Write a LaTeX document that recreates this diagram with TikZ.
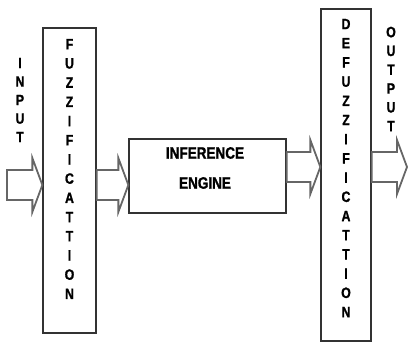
\documentclass[tikz,border=0pt]{standalone}
\usepackage{fontspec}
\setmainfont{Liberation Sans}
\newfontfamily\narrowsans[FakeStretch=0.82,BoldFeatures={FakeBold=1.2}]{Liberation Sans}
\usetikzlibrary{calc}

\newcommand{\fatarrow}[2]{%
  \draw[fat] let \p1=(#1), \p2=(#2) in
    (\x1,\y1+15pt) -- (\x2-10pt,\y1+15pt) -- (\x2-10pt,\y1+27pt) -- (\x2,\y1)
    -- (\x2-10pt,\y1-27pt) -- (\x2-10pt,\y1-15pt) -- (\x1,\y1-15pt) -- cycle;}

\begin{document}
\begin{tikzpicture}[x=1pt,y=-1pt,
    box/.style={draw=black!80,line width=1.3pt,fill=white,inner sep=0pt},
    fat/.style={draw=black!60,line width=1.8pt,fill=white,line join=miter},
    letters/.style={inner sep=0pt,align=center,font=\narrowsans\bfseries\fontsize{15}{19.2}\selectfont}]
	    \useasboundingbox (0,0) rectangle (409,344);
	    \node[box,minimum width=53pt,minimum height=305pt] (fuzz) at (69.5,180.5) {};
	    \node[box,minimum width=157pt,minimum height=74pt] (inf) at (207.5,176) {};
	    \node[box,minimum width=50pt,minimum height=332pt] (defuzz) at (346,175) {};
	    \coordinate (in) at (7,185);
	    \coordinate (out) at (407,167);
	    \fatarrow{in}{fuzz.west |- in}
	    \fatarrow{fuzz.east |- in}{inf.west |- in}
	    \fatarrow{inf.east |- out}{defuzz.west |- out}
	    \fatarrow{defuzz.east |- out}{out}
	    \node[letters,font=\narrowsans\bfseries\fontsize{15}{18.5}\selectfont] (inlbl) at (20,100) {I\\N\\P\\U\\T};
	    \node[letters] (fuzzlbl) at (fuzz |- 0,169) {F\\U\\Z\\Z\\I\\F\\I\\C\\A\\T\\T\\I\\O\\N};
	    \node[letters,font=\narrowsans\bfseries\fontsize{16.5}{30}\selectfont] (inflbl) at (205,168) {INFERENCE\\ENGINE};
	    \node[letters] (defuzzlbl) at (defuzz |- 0,168) {D\\E\\F\\U\\Z\\Z\\I\\F\\I\\C\\A\\T\\T\\I\\O\\N};
	    \node[letters,font=\narrowsans\bfseries\fontsize{15}{18.8}\selectfont] (outlbl) at (391,79) {O\\U\\T\\P\\U\\T};
\end{tikzpicture}
\end{document}
